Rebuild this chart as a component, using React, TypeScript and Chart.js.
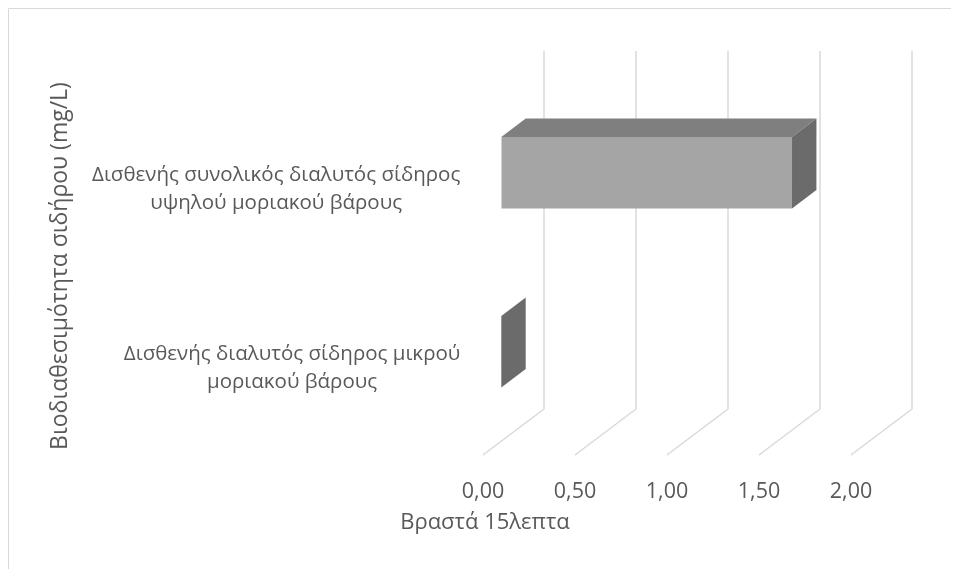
import { useEffect, useRef } from "react";
import { Chart, registerables } from "chart.js";

Chart.register(...registerables);

// Categories (each label split over two lines)
const categories: string[][] = [
  ["Δισθενής συνολικός διαλυτός σίδηρος", "υψηλού μοριακού βάρους"],
  ["Δισθενής διαλυτός σίδηρος μικρού", "μοριακού βάρους"],
];
// Bar values (mg/L)
const values: number[] = [1.58, 0];
// Value axis range and step
const axisMin = 0;
const axisMax = 2;
const axisStep = 0.5;

const yTitle = "Βιοδιαθεσιμότητα σιδήρου (mg/L)";
const xTitle = "Βραστά 15λεπτα";

// Look of the 3-D box
const FONT = "'Open Sans', 'Noto Sans', sans-serif";
const TEXT = "#595959";
const GRID = "#d9d9d9";
const FRONT = "#a5a5a5";
const TOP = "#7f7f7f";
const SIDE = "#6b6b6b";
const FLOOR_DX = 61; // horizontal shift from front to back of the floor
const FLOOR_DY = 46; // vertical shift from front to back of the floor
const BAR_FRONT = 0.3; // depth fraction of the bar front face (chart area plane)
const BAR_BACK = 0.7; // depth fraction of the bar back face

const fmt = (v: number) => v.toFixed(2).replace(".", ",");

const box3d = {
  id: "box3d",
  beforeDraw(chart: any) {
    const { ctx, width } = chart;
    ctx.save();
    ctx.fillStyle = "#ffffff";
    ctx.fillRect(0, 0, width, chart.height);
    ctx.strokeStyle = GRID;
    ctx.lineWidth = 1;
    ctx.beginPath();
    ctx.moveTo(0.5, chart.height);
    ctx.lineTo(0.5, 0.5);
    ctx.lineTo(width, 0.5);
    ctx.stroke();
    ctx.restore();
  },
  beforeDatasetsDraw(chart: any) {
    const { ctx, chartArea, scales } = chart;
    const xs = scales.x;
    const backDx = (1 - BAR_FRONT) * FLOOR_DX;
    const backDy = -(1 - BAR_FRONT) * FLOOR_DY;
    const frontDx = -BAR_FRONT * FLOOR_DX;
    const frontDy = BAR_FRONT * FLOOR_DY;
    ctx.save();
    ctx.strokeStyle = GRID;
    ctx.lineWidth = 1.5;
    for (const t of xs.ticks) {
      const px = xs.getPixelForValue(t.value);
      ctx.beginPath();
      ctx.moveTo(px + backDx, chartArea.top + backDy);
      ctx.lineTo(px + backDx, chartArea.bottom + backDy);
      ctx.lineTo(px + frontDx, chartArea.bottom + frontDy);
      ctx.stroke();
    }
    ctx.restore();
  },
  afterDatasetsDraw(chart: any) {
    const { ctx } = chart;
    const dx = (BAR_BACK - BAR_FRONT) * FLOOR_DX;
    const dy = -(BAR_BACK - BAR_FRONT) * FLOOR_DY;
    const meta = chart.getDatasetMeta(0);
    ctx.save();
    for (const el of meta.data) {
      const { x, y, base, height } = el.getProps(["x", "y", "base", "height"], true);
      const top = y - height / 2;
      const bottom = y + height / 2;
      if (x - base > 0.5) {
        ctx.fillStyle = TOP;
        ctx.beginPath();
        ctx.moveTo(base, top);
        ctx.lineTo(x, top);
        ctx.lineTo(x + dx, top + dy);
        ctx.lineTo(base + dx, top + dy);
        ctx.closePath();
        ctx.fill();
      }
      ctx.fillStyle = SIDE;
      ctx.beginPath();
      ctx.moveTo(x, top);
      ctx.lineTo(x + dx, top + dy);
      ctx.lineTo(x + dx, bottom + dy);
      ctx.lineTo(x, bottom);
      ctx.closePath();
      ctx.fill();
    }
    ctx.restore();
  },
  afterDraw(chart: any) {
    const { ctx, chartArea, scales } = chart;
    const ys = scales.y;
    ctx.save();
    ctx.fillStyle = TEXT;
    ctx.textBaseline = "middle";
    ctx.textAlign = "center";

    // category labels: lines centred on each other, block right-aligned
    ctx.font = `20.5px ${FONT}`;
    const lineH = 28;
    const rightEdge = chartArea.left - 41;
    categories.forEach((lines, i) => {
      const yc = ys.getPixelForValue(i) + BAR_FRONT * FLOOR_DY + 3;
      const blockW = Math.max(...lines.map((l) => ctx.measureText(l).width));
      const cx = rightEdge - blockW / 2;
      const y0 = yc - ((lines.length - 1) * lineH) / 2;
      lines.forEach((l, k) => ctx.fillText(l, cx, y0 + k * lineH));
    });

    // axis titles
    ctx.font = `22px ${FONT}`;
    ctx.fillText(xTitle, 477, 515);
    ctx.font = `23px ${FONT}`;
    ctx.translate(52, 258);
    ctx.rotate(-Math.PI / 2);
    ctx.fillText(yTitle, 0, 0);
    ctx.restore();
  },
};

export default function App() {
  const ref = useRef<HTMLCanvasElement>(null);

  useEffect(() => {
    if (!ref.current) return;
    const chart = new Chart(ref.current, {
      type: "bar",
      data: {
        labels: categories,
        datasets: [
          {
            data: values,
            backgroundColor: FRONT,
            borderWidth: 0,
            barPercentage: 0.4,
            categoryPercentage: 1,
          },
        ],
      },
      options: {
        indexAxis: "y",
        animation: false,
        responsive: true,
        maintainAspectRatio: false,
        layout: {
          padding: { left: 493.3, right: 81.7, top: 75.2, bottom: 67.8 },
        },
        plugins: {
          legend: { display: false },
          tooltip: { enabled: false },
        },
        scales: {
          x: {
            min: axisMin,
            max: axisMax,
            grid: { display: false, drawTicks: false },
            border: { display: false },
            afterFit: (scale: any) => {
              scale.height = 60;
            },
            ticks: {
              stepSize: axisStep,
              padding: 38,
              labelOffset: -BAR_FRONT * FLOOR_DX,
              color: TEXT,
              font: { family: FONT, size: 21.5 },
              callback: (v: any) => fmt(Number(v)),
            },
          },
          y: {
            display: false,
          },
        },
      },
      plugins: [box3d],
    });
    return () => chart.destroy();
  }, []);

  return (
    <div style={{ position: "relative", width: 943, height: 561 }}>
      <canvas ref={ref} />
    </div>
  );
}
